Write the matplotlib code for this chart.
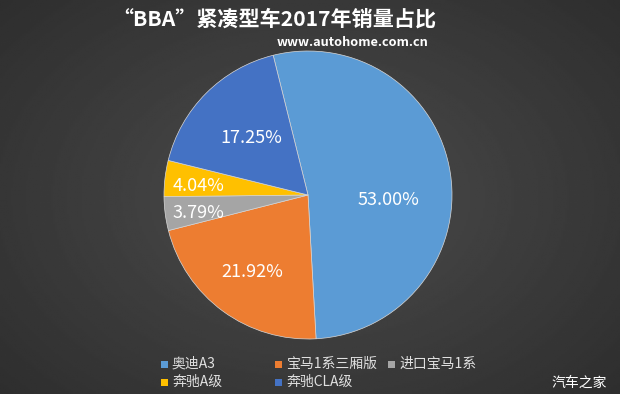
import numpy as np
import matplotlib.pyplot as plt
from matplotlib.patches import Rectangle

plt.rcParams['font.family'] = ['Noto Sans CJK SC', 'DejaVu Sans']

# 数据
labels = ['奥迪A3', '宝马1系三厢版', '进口宝马1系', '奔驰A级', '奔驰CLA级']
shares = [53.00, 21.92, 3.79, 4.04, 17.25]
colors = ['#5b9bd5', '#ed7d31', '#a5a5a5', '#ffc000', '#4472c4']
# 百分比标签离圆心的距离(相对半径)和角度微调
label_dist = [0.56, 0.66, 0.77, 0.76, 0.56]
label_shift = [-12, 0, 2, 2, 0]

title = '“BBA”紧凑型车2017年销量占比'
site = 'www.autohome.com.cn'

W, H = 620, 394
fig = plt.figure(figsize=(W / 100, H / 100), dpi=100)

# 背景渐变
bg = fig.add_axes([0, 0, 1, 1])
yy, xx = np.mgrid[0:1:200j, 0:1:300j]
r = np.sqrt(((xx - 0.5) * 1.1) ** 2 + (yy - 0.5) ** 2)
bg.imshow(0.30 - 0.16 * r, cmap='gray', vmin=0, vmax=1, aspect='auto',
          extent=[0, 1, 0, 1], origin='upper')
bg.set_axis_off()

# 饼图
cx, cy, rad = 308, 195, 144
ax = fig.add_axes([(cx - rad) / W, (H - cy - rad) / H, 2 * rad / W, 2 * rad / H])
wedges, _ = ax.pie(shares, colors=colors, startangle=104, counterclock=False,
                   wedgeprops=dict(edgecolor='#d8d8d8', linewidth=0.5))
for w, v, d, s in zip(wedges, shares, label_dist, label_shift):
    ang = np.deg2rad((w.theta1 + w.theta2) / 2 + s)
    ax.text(d * np.cos(ang), d * np.sin(ang), f'{v:.2f}%', color='white',
            fontsize=13, ha='center', va='center')
ax.set_xlim(-1, 1)
ax.set_ylim(-1, 1)
ax.set_aspect('equal')

# 标题
fig.text(274 / W, 1 - 19 / H, title, color='white', fontsize=15.2, fontweight='bold',
         ha='center', va='center')
fig.text(428 / W, 1 - 42 / H, site, color='white', fontsize=9.2, fontweight='bold',
         ha='right', va='center')

# 图例
col_x = [161, 275, 388]
row_y = [364, 382]
for i, (lab, c) in enumerate(zip(labels, colors)):
    row, col = divmod(i, 3)
    x, y = col_x[col], row_y[row]
    fig.patches.append(Rectangle((x / W, (H - y - 3.5) / H), 7 / W, 7 / H,
                                 facecolor=c, edgecolor='none',
                                 transform=fig.transFigure, figure=fig))
    fig.text((x + 11) / W, 1 - y / H, lab, color='#e0e0e0', fontsize=10,
             ha='left', va='center')

# 水印
fig.text(607 / W, 1 - 383 / H, '汽车之家', color='white', fontsize=10,
         ha='right', va='center')

fig.savefig('out.png', dpi=100)
